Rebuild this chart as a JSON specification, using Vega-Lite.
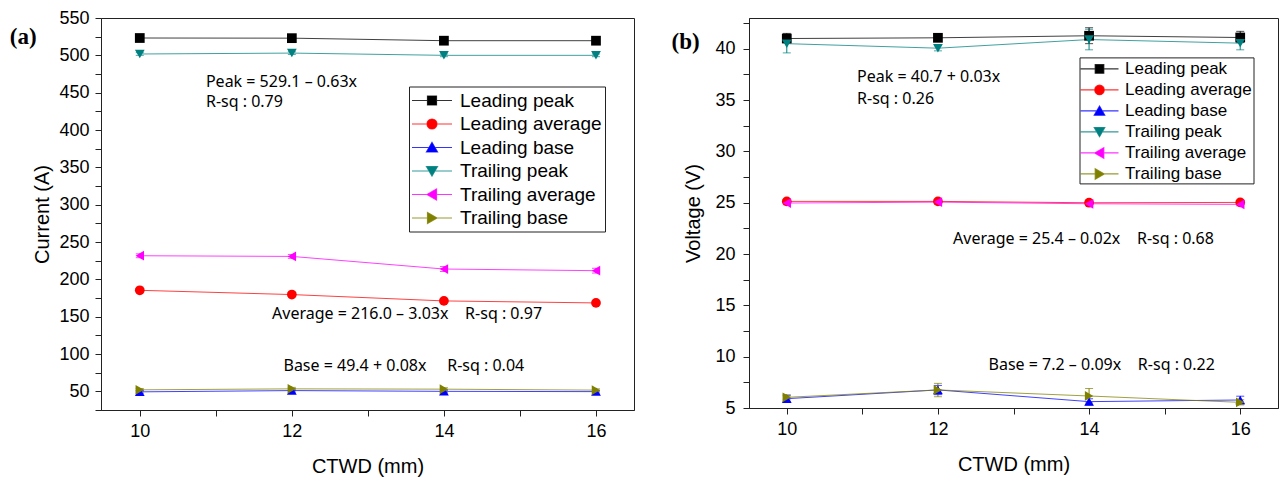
{
  "$schema": "https://vega.github.io/schema/vega-lite/v6.json",
  "padding": {"left": 9, "top": 8, "right": 4, "bottom": 4},
  "background": "white",
  "bounds": "flush",
  "spacing": 115,
  "config": {
    "font": "Liberation Sans",
    "view": {"stroke": "#222222", "strokeWidth": 1},
    "axis": {
      "domainColor": "#222222", "tickColor": "#222222", "labelColor": "black", "titleColor": "black",
      "labelFont": "Liberation Sans", "labelFontSize": 18, "titleFont": "Liberation Sans", "titleFontSize": 20,
      "titleFontWeight": "normal", "grid": false, "tickSize": 6, "labelFlush": false, "labelOverlap": false, "tickCount": 100, "format": "d"
    }
  },
  "datasets": {
    "current": [
      {"series": "Leading peak", "ctwd": 10, "value": 523.2, "lo": 521.5, "hi": 525.0},
      {"series": "Leading peak", "ctwd": 12, "value": 523.0, "lo": 521.3, "hi": 524.7},
      {"series": "Leading peak", "ctwd": 14, "value": 519.6, "lo": 517.8, "hi": 521.4},
      {"series": "Leading peak", "ctwd": 16, "value": 519.6, "lo": 517.9, "hi": 521.3},
      {"series": "Leading average", "ctwd": 10, "value": 185.3, "lo": 183.0, "hi": 187.6},
      {"series": "Leading average", "ctwd": 12, "value": 179.6, "lo": 177.3, "hi": 181.9},
      {"series": "Leading average", "ctwd": 14, "value": 171.1, "lo": 168.6, "hi": 173.6},
      {"series": "Leading average", "ctwd": 16, "value": 168.4, "lo": 166.0, "hi": 170.8},
      {"series": "Leading base", "ctwd": 10, "value": 49.3, "lo": 47.5, "hi": 51.1},
      {"series": "Leading base", "ctwd": 12, "value": 51.0, "lo": 49.0, "hi": 53.0},
      {"series": "Leading base", "ctwd": 14, "value": 50.0, "lo": 48.0, "hi": 52.0},
      {"series": "Leading base", "ctwd": 16, "value": 49.6, "lo": 47.8, "hi": 51.4},
      {"series": "Trailing peak", "ctwd": 10, "value": 501.8, "lo": 500.0, "hi": 503.6},
      {"series": "Trailing peak", "ctwd": 12, "value": 503.0, "lo": 501.2, "hi": 504.8},
      {"series": "Trailing peak", "ctwd": 14, "value": 500.0, "lo": 498.2, "hi": 501.8},
      {"series": "Trailing peak", "ctwd": 16, "value": 500.0, "lo": 498.2, "hi": 501.8},
      {"series": "Trailing average", "ctwd": 10, "value": 231.6, "lo": 229.0, "hi": 234.2},
      {"series": "Trailing average", "ctwd": 12, "value": 230.7, "lo": 228.1, "hi": 233.3},
      {"series": "Trailing average", "ctwd": 14, "value": 213.8, "lo": 210.5, "hi": 217.1},
      {"series": "Trailing average", "ctwd": 16, "value": 211.6, "lo": 208.4, "hi": 214.8},
      {"series": "Trailing base", "ctwd": 10, "value": 52.0, "lo": 50.2, "hi": 53.8},
      {"series": "Trailing base", "ctwd": 12, "value": 53.3, "lo": 51.3, "hi": 55.3},
      {"series": "Trailing base", "ctwd": 14, "value": 52.9, "lo": 50.9, "hi": 54.9},
      {"series": "Trailing base", "ctwd": 16, "value": 51.6, "lo": 49.8, "hi": 53.4}
    ],
    "voltage": [
      {"series": "Leading peak", "ctwd": 10, "value": 41.0, "lo": 40.6, "hi": 41.5},
      {"series": "Leading peak", "ctwd": 12, "value": 41.07, "lo": 40.8, "hi": 41.35},
      {"series": "Leading peak", "ctwd": 14, "value": 41.27, "lo": 40.5, "hi": 42.05},
      {"series": "Leading peak", "ctwd": 16, "value": 41.1, "lo": 40.6, "hi": 41.7},
      {"series": "Leading average", "ctwd": 10, "value": 25.13, "lo": 25.0, "hi": 25.3},
      {"series": "Leading average", "ctwd": 12, "value": 25.13, "lo": 25.0, "hi": 25.3},
      {"series": "Leading average", "ctwd": 14, "value": 25.0, "lo": 24.85, "hi": 25.15},
      {"series": "Leading average", "ctwd": 16, "value": 25.03, "lo": 24.9, "hi": 25.2},
      {"series": "Leading base", "ctwd": 10, "value": 5.91, "lo": 5.6, "hi": 6.2},
      {"series": "Leading base", "ctwd": 12, "value": 6.76, "lo": 6.3, "hi": 7.2},
      {"series": "Leading base", "ctwd": 14, "value": 5.62, "lo": 5.3, "hi": 5.9},
      {"series": "Leading base", "ctwd": 16, "value": 5.78, "lo": 5.4, "hi": 6.15},
      {"series": "Trailing peak", "ctwd": 10, "value": 40.5, "lo": 39.6, "hi": 41.2},
      {"series": "Trailing peak", "ctwd": 12, "value": 40.06, "lo": 39.8, "hi": 40.3},
      {"series": "Trailing peak", "ctwd": 14, "value": 40.9, "lo": 39.9, "hi": 41.9},
      {"series": "Trailing peak", "ctwd": 16, "value": 40.55, "lo": 39.9, "hi": 41.2},
      {"series": "Trailing average", "ctwd": 10, "value": 24.97, "lo": 24.8, "hi": 25.1},
      {"series": "Trailing average", "ctwd": 12, "value": 25.06, "lo": 24.9, "hi": 25.2},
      {"series": "Trailing average", "ctwd": 14, "value": 24.9, "lo": 24.75, "hi": 25.05},
      {"series": "Trailing average", "ctwd": 16, "value": 24.84, "lo": 24.7, "hi": 25.0},
      {"series": "Trailing base", "ctwd": 10, "value": 6.04, "lo": 5.8, "hi": 6.3},
      {"series": "Trailing base", "ctwd": 12, "value": 6.76, "lo": 6.1, "hi": 7.4},
      {"series": "Trailing base", "ctwd": 14, "value": 6.17, "lo": 5.5, "hi": 6.9},
      {"series": "Trailing base", "ctwd": 16, "value": 5.55, "lo": 5.3, "hi": 5.8}
    ]
  },
  "resolve": {"scale": {"color": "independent", "shape": "independent"}, "legend": {"color": "independent"}},
  "hconcat": [
    {
      "width": 533,
      "height": 392,
      "layer": [
        {
          "data": {"name": "current"},
          "mark": {"type": "errorbar", "ticks": true, "thickness": 1, "size": 8},
          "encoding": {
            "x": {"field": "ctwd", "type": "quantitative", "title": "CTWD (mm)", "scale": {"domain": [9.49, 16.5], "nice": false, "zero": false},
              "axis": {"values": [10, 11, 12, 13, 14, 15, 16], "labelExpr": "datum.value % 2 === 0 ? datum.label : ''", "labelPadding": 6, "titlePadding": 16,
                "encode": {"ticks": {"update": {"y2": {"signal": "datum.value % 2 === 0 ? 6 : 3"}}}}}},
            "y": {"field": "lo", "type": "quantitative", "title": "Current (A)", "scale": {"domain": [25, 550], "nice": false, "zero": false},
              "axis": {"values": [25, 50, 75, 100, 125, 150, 175, 200, 225, 250, 275, 300, 325, 350, 375, 400, 425, 450, 475, 500, 525, 550],
                "labelExpr": "datum.value % 50 === 0 ? datum.label : ''", "labelPadding": 6, "titlePadding": 6,
                "encode": {"ticks": {"update": {"x2": {"signal": "datum.value % 50 === 0 ? -6 : -3"}}}}}},
            "y2": {"field": "hi"},
            "color": {"field": "series", "type": "nominal",
              "scale": {"domain": ["Leading peak", "Leading average", "Leading base", "Trailing peak", "Trailing average", "Trailing base"],
                "range": ["#000000", "#ff0000", "#0000ff", "#008080", "#ff00ff", "#808000"]},
              "legend": {"title": null, "orient": "none", "legendX": 308, "legendY": 68.5, "padding": 3,
                "strokeColor": "#222222", "fillColor": "white", "labelFont": "Liberation Sans", "labelFontSize": 19, "labelColor": "black",
                "symbolSize": 400, "symbolOffset": 9, "labelOffset": 17, "rowPadding": 2.5,
                "encode": {"symbols": {"update": {
                  "shape": {"signal": "datum.value==='Leading peak'?'M-2,0H2M-0.45,-0.45H0.45V0.45H-0.45Z':datum.value==='Leading average'?'M-2,0H2M0.5,0A0.5,0.5,0,1,1,-0.5,0A0.5,0.5,0,1,1,0.5,0Z':datum.value==='Leading base'?'M-2,0H2M0,-0.5L0.55,0.45L-0.55,0.45Z':datum.value==='Trailing peak'?'M-2,0H2M0,0.5L0.55,-0.45L-0.55,-0.45Z':datum.value==='Trailing average'?'M-2,0H2M-0.5,0L0.45,-0.55L0.45,0.55Z':'M-2,0H2M0.5,0L-0.45,-0.55L-0.45,0.55Z'"},
                  "fill": {"signal": "datum.value==='Leading peak'?'#000000':datum.value==='Leading average'?'#ff0000':datum.value==='Leading base'?'#0000ff':datum.value==='Trailing peak'?'#008080':datum.value==='Trailing average'?'#ff00ff':'#808000'"},
                  "stroke": {"signal": "datum.value==='Leading peak'?'#000000':datum.value==='Leading average'?'#ff0000':datum.value==='Leading base'?'#0000ff':datum.value==='Trailing peak'?'#008080':datum.value==='Trailing average'?'#ff00ff':'#808000'"},
                  "strokeWidth": {"value": 1.2},
                  "opacity": {"value": 1},
                  "fillOpacity": {"value": 1},
                  "strokeOpacity": {"value": 0.8}
                }}}}}
          }
        },
        {
          "data": {"name": "current"},
          "mark": {"type": "line", "strokeWidth": 1, "opacity": 0.75},
          "encoding": {
            "x": {"field": "ctwd", "type": "quantitative", "title": "CTWD (mm)", "scale": {"domain": [9.49, 16.5], "nice": false, "zero": false}},
            "y": {"field": "value", "type": "quantitative", "title": "Current (A)", "scale": {"domain": [25, 550], "nice": false, "zero": false}},
            "color": {"field": "series", "type": "nominal"}
          }
        },
        {
          "data": {"name": "current"},
          "mark": {"type": "point", "filled": true, "opacity": 1, "size": 95},
          "encoding": {
            "x": {"field": "ctwd", "type": "quantitative", "title": "CTWD (mm)", "scale": {"domain": [9.49, 16.5], "nice": false, "zero": false}},
            "y": {"field": "value", "type": "quantitative", "title": "Current (A)", "scale": {"domain": [25, 550], "nice": false, "zero": false}},
            "color": {"field": "series", "type": "nominal"},
            "shape": {"field": "series", "type": "nominal", "legend": null,
              "scale": {"domain": ["Trailing base", "Trailing average", "Trailing peak", "Leading base", "Leading average", "Leading peak"],
                "range": ["triangle-right", "triangle-left", "triangle-down", "triangle-up", "circle", "square"]}}
          }
        },
        {
          "data": {"values": [
            {"x": 10.87, "y": 464.3, "t": "Peak = 529.1 – 0.63x"},
            {"x": 10.87, "y": 437.5, "t": "R-sq : 0.79"},
            {"x": 11.74, "y": 153, "t": "Average = 216.0 – 3.03x\u00a0\u00a0\u00a0\u00a0R-sq : 0.97"},
            {"x": 11.89, "y": 84.2, "t": "Base = 49.4 + 0.08x\u00a0\u00a0\u00a0\u00a0\u00a0R-sq : 0.04"}
          ]},
          "mark": {"type": "text", "align": "left", "baseline": "middle", "font": "Noto Sans", "fontSize": 16, "color": "black"},
          "encoding": {
            "x": {"field": "x", "type": "quantitative", "title": "CTWD (mm)", "scale": {"domain": [9.49, 16.5], "nice": false, "zero": false}},
            "y": {"field": "y", "type": "quantitative", "title": "Current (A)", "scale": {"domain": [25, 550], "nice": false, "zero": false}},
            "text": {"field": "t"}
          }
        },
        {
          "data": {"values": [{"x": 8.29, "y": 524, "t": "(a)"}]},
          "mark": {"type": "text", "align": "left", "baseline": "middle", "font": "Liberation Serif", "fontWeight": "bold", "fontSize": 23, "color": "black"},
          "encoding": {
            "x": {"field": "x", "type": "quantitative", "title": "CTWD (mm)", "scale": {"domain": [9.49, 16.5], "nice": false, "zero": false}},
            "y": {"field": "y", "type": "quantitative", "title": "Current (A)", "scale": {"domain": [25, 550], "nice": false, "zero": false}},
            "text": {"field": "t"}
          }
        }
      ]
    },
    {
      "width": 529,
      "height": 390,
      "layer": [
        {
          "data": {"name": "voltage"},
          "mark": {"type": "errorbar", "ticks": true, "thickness": 1, "size": 8},
          "encoding": {
            "x": {"field": "ctwd", "type": "quantitative", "title": "CTWD (mm)", "scale": {"domain": [9.5, 16.5], "nice": false, "zero": false},
              "axis": {"values": [10, 11, 12, 13, 14, 15, 16], "labelExpr": "datum.value % 2 === 0 ? datum.label : ''", "labelPadding": 6, "titlePadding": 16,
                "encode": {"ticks": {"update": {"y2": {"signal": "datum.value % 2 === 0 ? 6 : 3"}}}}}},
            "y": {"field": "lo", "type": "quantitative", "title": "Voltage (V)", "scale": {"domain": [5, 43], "nice": false, "zero": false},
              "axis": {"values": [5, 7.5, 10, 12.5, 15, 17.5, 20, 22.5, 25, 27.5, 30, 32.5, 35, 37.5, 40, 42.5],
                "labelExpr": "datum.value % 5 === 0 ? datum.label : ''", "labelPadding": 8, "titlePadding": 11,
                "encode": {"ticks": {"update": {"x2": {"signal": "datum.value % 5 === 0 ? -6 : -3"}}}}}},
            "y2": {"field": "hi"},
            "color": {"field": "series", "type": "nominal",
              "scale": {"domain": ["Leading peak", "Leading average", "Leading base", "Trailing peak", "Trailing average", "Trailing base"],
                "range": ["#000000", "#ff0000", "#0000ff", "#008080", "#ff00ff", "#808000"]},
              "legend": {"title": null, "orient": "none", "legendX": 330.5, "legendY": 39.4, "padding": 1,
                "strokeColor": "#222222", "fillColor": "white", "labelFont": "Liberation Sans", "labelFontSize": 17, "labelColor": "black",
                "symbolSize": 361, "symbolOffset": 8.5, "labelOffset": 15, "rowPadding": 2,
                "encode": {"symbols": {"update": {
                  "shape": {"signal": "datum.value==='Leading peak'?'M-2,0H2M-0.45,-0.45H0.45V0.45H-0.45Z':datum.value==='Leading average'?'M-2,0H2M0.5,0A0.5,0.5,0,1,1,-0.5,0A0.5,0.5,0,1,1,0.5,0Z':datum.value==='Leading base'?'M-2,0H2M0,-0.5L0.55,0.45L-0.55,0.45Z':datum.value==='Trailing peak'?'M-2,0H2M0,0.5L0.55,-0.45L-0.55,-0.45Z':datum.value==='Trailing average'?'M-2,0H2M-0.5,0L0.45,-0.55L0.45,0.55Z':'M-2,0H2M0.5,0L-0.45,-0.55L-0.45,0.55Z'"},
                  "fill": {"signal": "datum.value==='Leading peak'?'#000000':datum.value==='Leading average'?'#ff0000':datum.value==='Leading base'?'#0000ff':datum.value==='Trailing peak'?'#008080':datum.value==='Trailing average'?'#ff00ff':'#808000'"},
                  "stroke": {"signal": "datum.value==='Leading peak'?'#000000':datum.value==='Leading average'?'#ff0000':datum.value==='Leading base'?'#0000ff':datum.value==='Trailing peak'?'#008080':datum.value==='Trailing average'?'#ff00ff':'#808000'"},
                  "strokeWidth": {"value": 1.2},
                  "opacity": {"value": 1},
                  "fillOpacity": {"value": 1},
                  "strokeOpacity": {"value": 0.8}
                }}}}}
          }
        },
        {
          "data": {"name": "voltage"},
          "mark": {"type": "line", "strokeWidth": 1, "opacity": 0.75},
          "encoding": {
            "x": {"field": "ctwd", "type": "quantitative", "title": "CTWD (mm)", "scale": {"domain": [9.5, 16.5], "nice": false, "zero": false}},
            "y": {"field": "value", "type": "quantitative", "title": "Voltage (V)", "scale": {"domain": [5, 43], "nice": false, "zero": false}},
            "color": {"field": "series", "type": "nominal"}
          }
        },
        {
          "data": {"name": "voltage"},
          "mark": {"type": "point", "filled": true, "opacity": 1, "size": 95},
          "encoding": {
            "x": {"field": "ctwd", "type": "quantitative", "title": "CTWD (mm)", "scale": {"domain": [9.5, 16.5], "nice": false, "zero": false}},
            "y": {"field": "value", "type": "quantitative", "title": "Voltage (V)", "scale": {"domain": [5, 43], "nice": false, "zero": false}},
            "color": {"field": "series", "type": "nominal"},
            "shape": {"field": "series", "type": "nominal", "legend": null,
              "scale": {"domain": ["Trailing base", "Trailing average", "Trailing peak", "Leading base", "Leading average", "Leading peak"],
                "range": ["triangle-right", "triangle-left", "triangle-down", "triangle-up", "circle", "square"]}}
          }
        },
        {
          "data": {"values": [
            {"x": 10.93, "y": 37.23, "t": "Peak = 40.7 + 0.03x"},
            {"x": 10.93, "y": 35.1, "t": "R-sq : 0.26"},
            {"x": 12.2, "y": 21.5, "t": "Average = 25.4 – 0.02x\u00a0\u00a0\u00a0\u00a0R-sq : 0.68"},
            {"x": 12.67, "y": 9.22, "t": "Base = 7.2 – 0.09x\u00a0\u00a0\u00a0\u00a0R-sq : 0.22"}
          ]},
          "mark": {"type": "text", "align": "left", "baseline": "middle", "font": "Noto Sans", "fontSize": 16, "color": "black"},
          "encoding": {
            "x": {"field": "x", "type": "quantitative", "title": "CTWD (mm)", "scale": {"domain": [9.5, 16.5], "nice": false, "zero": false}},
            "y": {"field": "y", "type": "quantitative", "title": "Voltage (V)", "scale": {"domain": [5, 43], "nice": false, "zero": false}},
            "text": {"field": "t"}
          }
        },
        {
          "data": {"values": [{"x": 8.475, "y": 40.7, "t": "(b)"}]},
          "mark": {"type": "text", "align": "left", "baseline": "middle", "font": "Liberation Serif", "fontWeight": "bold", "fontSize": 23, "color": "black"},
          "encoding": {
            "x": {"field": "x", "type": "quantitative", "title": "CTWD (mm)", "scale": {"domain": [9.5, 16.5], "nice": false, "zero": false}},
            "y": {"field": "y", "type": "quantitative", "title": "Voltage (V)", "scale": {"domain": [5, 43], "nice": false, "zero": false}},
            "text": {"field": "t"}
          }
        }
      ]
    }
  ]
}
